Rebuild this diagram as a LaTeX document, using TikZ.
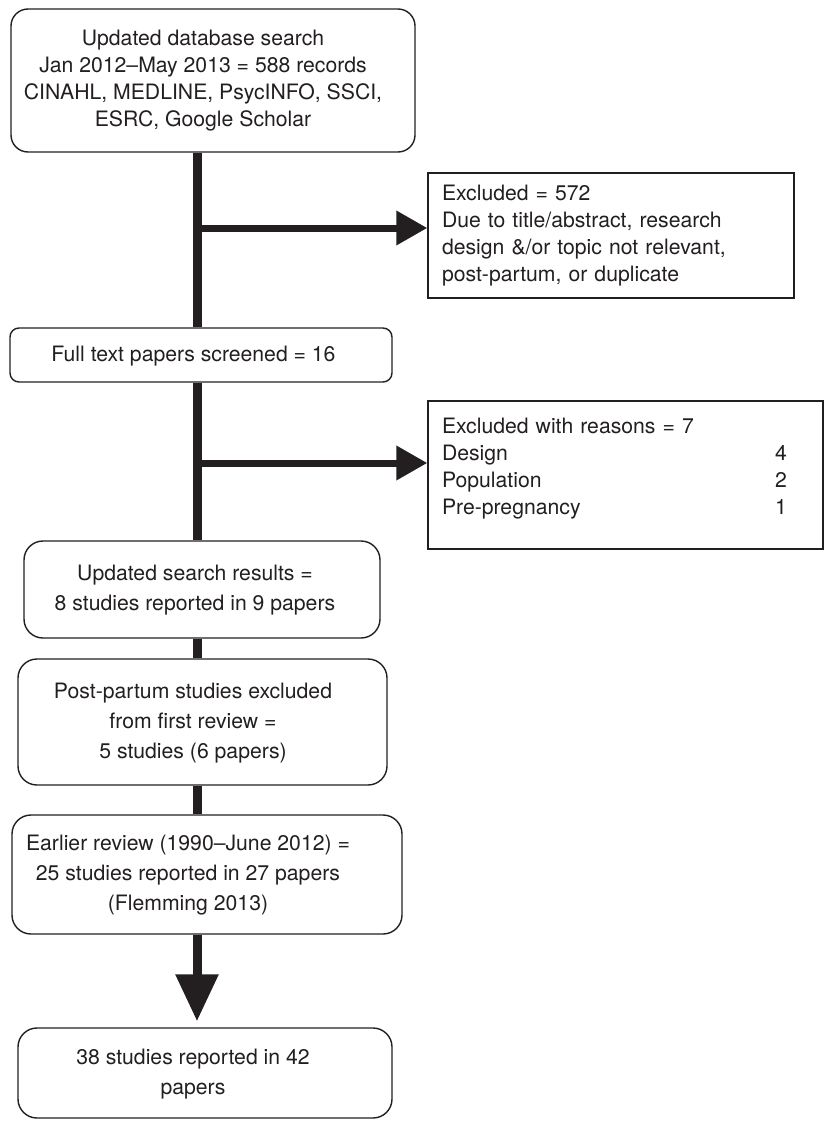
\documentclass[tikz,border=0pt]{standalone}
\usepackage{fontspec}
\setmainfont{TeX Gyre Heros}
\usetikzlibrary{arrows.meta}
\definecolor{ink}{HTML}{231F20}
% centred lines, pulled left of the box centre by half of #1
\newcommand{\offcentre}[2]{\hspace*{-#1}\begin{tabular}{@{}c@{}}#2\end{tabular}}

\begin{document}
\begin{tikzpicture}[x=1pt, y=-1pt,
    stage/.style ={rectangle, rounded corners=19pt, draw=ink, line width=1.4pt, fill=white,
      text=ink, inner sep=0pt, font=\fontsize{21.2}{30}\selectfont},
    excluded/.style ={rectangle, draw=ink, line width=1.4pt, fill=white, text=ink,
      align=left, inner xsep=14pt, inner ysep=0pt, font=\fontsize{21.2}{27}\selectfont},
    trunk/.style ={draw=ink, line width=9pt},
    branch/.style ={draw=ink, line width=7pt, -{Triangle[length=31pt, width=33pt]}}]
   \useasboundingbox (0,0) rectangle (824,1121);
   \coordinate (spine) at (197,0);
   \node[stage, rounded corners=17pt, minimum width=404pt, minimum height=143pt, font=\fontsize{21.2}{27}\selectfont] (search) at (213,80.5)
     {\offcentre{20pt}{Updated database search\\ Jan 2012--May 2013 = 588 records\\ CINAHL, MEDLINE, PsycINFO, SSCI,\\ ESRC, Google Scholar}};
   \node[excluded, text width=338pt, minimum height=125pt] (excl1) at (611,235.5)
     {Excluded = 572\\ Due to title/abstract, research\\ design \&/or topic not relevant,\\ post-partum, or duplicate};
   \node[stage, rounded corners=9pt, minimum width=382pt, minimum height=54pt] (full) at (201,355)
     {\offcentre{15pt}{Full text papers screened = 16}};
   \node[excluded, text width=367pt, minimum height=148pt] (excl2) at (625.5,475)
     {\begin{tabular}{@{}p{321pt}l@{}}
        Excluded with reasons = 7 & \\
        Design & 4\\
        Population & 2\\
        Pre-pregnancy & 1\\[12pt]
      \end{tabular}};
   \node[stage, minimum width=356pt, minimum height=97pt] (update) at (202,589.5)
     {\offcentre{14pt}{Updated search results =\\ 8 studies reported in 9 papers}};
   \node[stage, minimum width=369pt, minimum height=126pt] (postpartum) at (202.5,722)
     {\offcentre{19pt}{Post-partum studies excluded\\ from first review =\\ 5 studies (6 papers)}};
   \node[stage, minimum width=390pt, minimum height=119pt] (earlier) at (207,874.5)
     {\offcentre{38pt}{Earlier review (1990--June 2012) =\\ 25 studies reported in 27 papers\\ (Flemming 2013)}};
   \node[stage, minimum width=374pt, minimum height=90pt] (total) at (205,1073)
     {\offcentre{24pt}{38 studies reported in 42\\ papers}};
   % main line
   \coordinate (fork1) at (197,228);
   \coordinate (fork2) at (197,463);
   \draw[trunk] (search.south -| spine) -- (full.north -| spine);
   \draw[trunk] (full.south -| spine) -- (update.north -| spine);
   \draw[trunk] (update.south -| spine) -- (postpartum.north -| spine);
   \draw[trunk] (postpartum.south -| spine) -- (earlier.north -| spine);
   \draw[trunk, -{Triangle[length=47pt, width=41pt]}, shorten >=6pt] (earlier.south -| spine) -- (total.north -| spine);
   % exclusions
   \draw[branch] (fork1) -- (fork1 -| excl1.west);
   \draw[branch] (fork2) -- (fork2 -| excl2.west);
\end{tikzpicture}
\end{document}
